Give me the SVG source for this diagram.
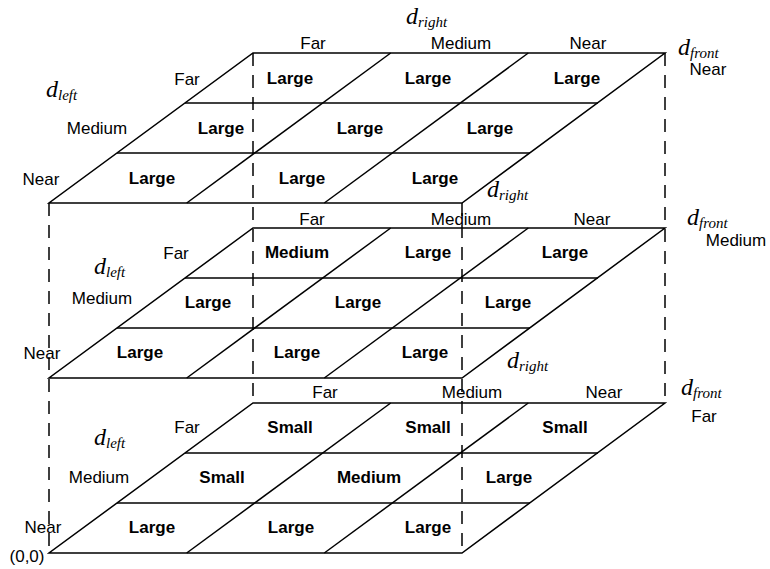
<svg xmlns="http://www.w3.org/2000/svg" width="770" height="569" viewBox="0 0 770 569">
<style>
.face{fill:none;stroke:#000;stroke-width:1.5;stroke-linejoin:miter}
.ln{stroke:#000;stroke-width:1.5;fill:none}
.dash{stroke:#000;stroke-width:1.5;fill:none;stroke-dasharray:13 9}
text{font-family:"Liberation Sans",Arial,sans-serif;font-size:17px;fill:#000}
.c{text-anchor:middle}
.b{font-weight:bold}
.d{font-family:"Liberation Serif","Times New Roman",serif;font-style:italic;font-size:24px}
.s{font-size:15px}
</style>
<defs>
<g id="grid">
<polygon class="face" points="49,150 462,150 665,0 253,0"/>
<line class="ln" x1="117" y1="100" x2="530" y2="100"/>
<line class="ln" x1="185" y1="50" x2="598" y2="50"/>
<line class="ln" x1="186.7" y1="150" x2="390.7" y2="0"/>
<line class="ln" x1="324.3" y1="150" x2="528.3" y2="0"/>
</g>
</defs>
<g id="connectors">
<line class="dash" x1="253" y1="53" x2="253" y2="403"/>
<line class="dash" x1="665" y1="53" x2="665" y2="403"/>
<line class="dash" x1="49" y1="203" x2="49" y2="553"/>
<line class="dash" x1="462" y1="203" x2="462" y2="553"/>
</g>
<g id="layer-near">
<use href="#grid" x="0" y="53"/>
<text class="d" x="406" y="24">d<tspan class="s" dy="3">right</tspan></text>
<text class="c" x="313" y="49">Far</text>
<text class="c" x="461" y="49">Medium</text>
<text class="c" x="588" y="49">Near</text>
<text class="d" x="678" y="55">d<tspan class="s" dy="3">front</tspan></text>
<text class="c" x="708" y="75">Near</text>
<text class="d" x="46" y="97">d<tspan class="s" dy="3">left</tspan></text>
<text class="c" x="187" y="85">Far</text>
<text class="c" x="97" y="134">Medium</text>
<text class="c" x="41" y="185">Near</text>
<text class="c b" x="290" y="84">Large</text>
<text class="c b" x="428" y="84">Large</text>
<text class="c b" x="577" y="84">Large</text>
<text class="c b" x="221" y="134">Large</text>
<text class="c b" x="360" y="134">Large</text>
<text class="c b" x="490" y="134">Large</text>
<text class="c b" x="152" y="184">Large</text>
<text class="c b" x="302" y="184">Large</text>
<text class="c b" x="435" y="184">Large</text>
</g>
<g id="layer-medium">
<use href="#grid" x="0" y="228"/>
<text class="d" x="487" y="197">d<tspan class="s" dy="3">right</tspan></text>
<text class="c" x="312" y="225">Far</text>
<text class="c" x="461" y="225">Medium</text>
<text class="c" x="592" y="225">Near</text>
<text class="d" x="687" y="225">d<tspan class="s" dy="3">front</tspan></text>
<text class="c" x="736" y="246">Medium</text>
<text class="d" x="94" y="274">d<tspan class="s" dy="3">left</tspan></text>
<text class="c" x="176" y="259">Far</text>
<text class="c" x="102" y="304">Medium</text>
<text class="c" x="42" y="359">Near</text>
<text class="c b" x="297" y="258">Medium</text>
<text class="c b" x="428" y="258">Large</text>
<text class="c b" x="565" y="258">Large</text>
<text class="c b" x="208" y="308">Large</text>
<text class="c b" x="358" y="308">Large</text>
<text class="c b" x="508" y="308">Large</text>
<text class="c b" x="140" y="358">Large</text>
<text class="c b" x="297" y="358">Large</text>
<text class="c b" x="425" y="358">Large</text>
</g>
<g id="layer-far">
<use href="#grid" x="0" y="403"/>
<text class="d" x="507" y="368">d<tspan class="s" dy="3">right</tspan></text>
<text class="c" x="325" y="398">Far</text>
<text class="c" x="472" y="398">Medium</text>
<text class="c" x="604" y="398">Near</text>
<text class="d" x="681" y="395">d<tspan class="s" dy="3">front</tspan></text>
<text class="c" x="704" y="422">Far</text>
<text class="d" x="94" y="445">d<tspan class="s" dy="3">left</tspan></text>
<text class="c" x="187" y="433">Far</text>
<text class="c" x="99" y="483">Medium</text>
<text class="c" x="43" y="533">Near</text>
<text class="c" x="27" y="562">(0,0)</text>
<text class="c b" x="290" y="433">Small</text>
<text class="c b" x="428" y="433">Small</text>
<text class="c b" x="565" y="433">Small</text>
<text class="c b" x="222" y="483">Small</text>
<text class="c b" x="369" y="483">Medium</text>
<text class="c b" x="509" y="483">Large</text>
<text class="c b" x="152" y="533">Large</text>
<text class="c b" x="291" y="533">Large</text>
<text class="c b" x="428" y="533">Large</text>
</g>
</svg>
